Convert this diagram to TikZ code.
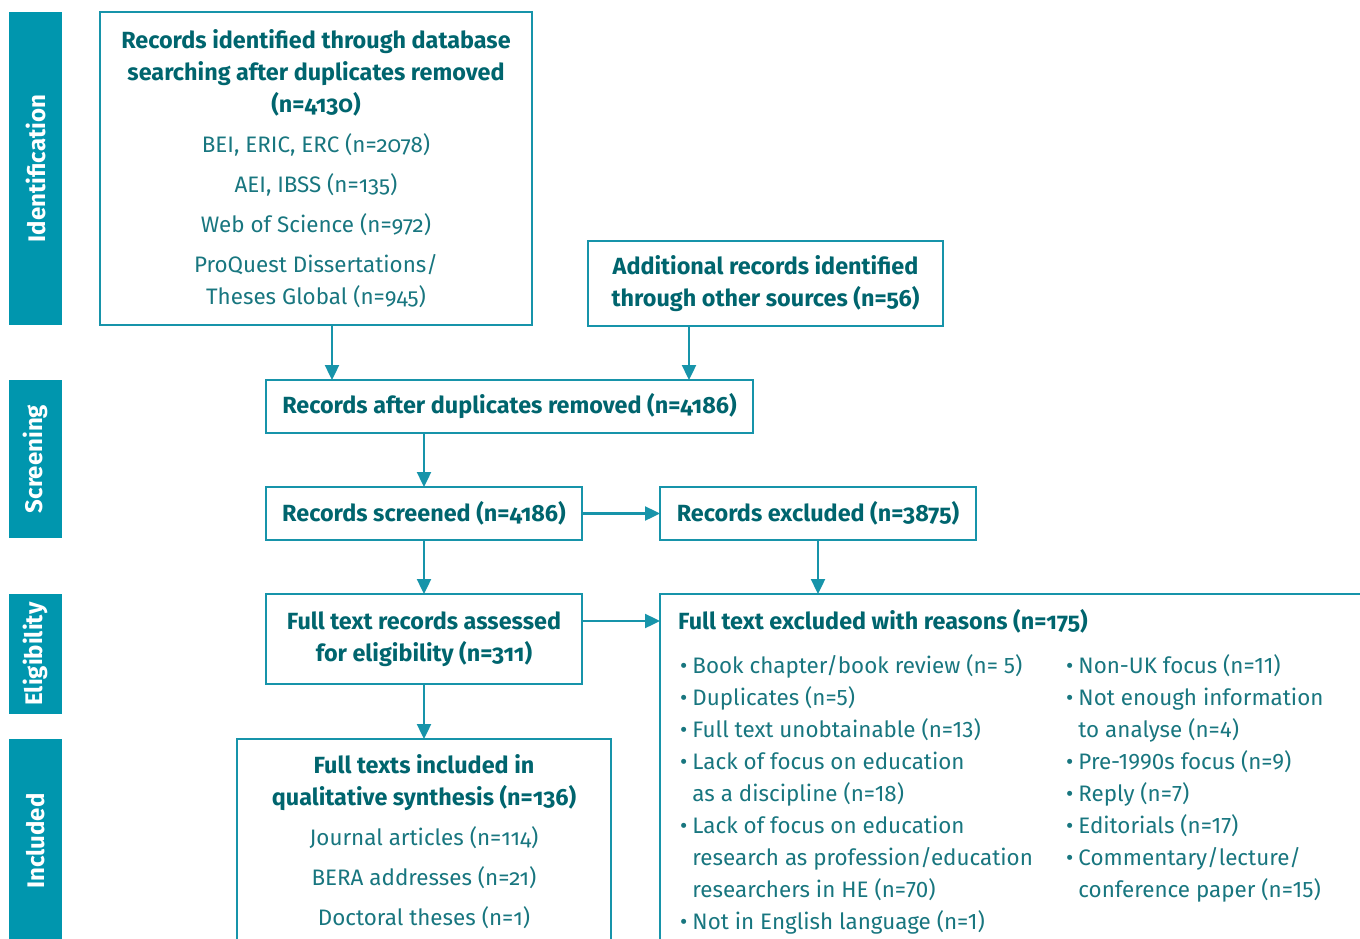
\documentclass[tikz,border=0pt]{standalone}
\usepackage{fontspec}
\setmainfont{Fira Sans}[Numbers=Lining]
\newfontfamily\hdfont{Fira Sans}[Numbers=OldStyle]
\usetikzlibrary{arrows.meta}
\definecolor{barcol}{HTML}{0096AE}
\definecolor{linecol}{HTML}{1794AA}
\definecolor{headcol}{HTML}{00656E}
\definecolor{txtcol}{HTML}{18767F}
\tikzset{
  box/.style={draw=linecol, line width=2.6pt, rectangle, inner sep=0pt, outer sep=0pt, align=center},
  sidebar/.style={fill=barcol, draw=none, inner sep=0pt, outer sep=0pt},
  sidelabel/.style={rotate=90, text=white, font=\hdfont\bfseries\fontsize{24}{28}\selectfont},
  hd/.style={text=headcol, font=\hdfont\bfseries\fontsize{23.4}{32}\selectfont},
  arr/.style={draw=linecol, line width=2.4pt, -{Triangle[length=15pt,width=14pt]}},
}
\newcommand{\rg}[1]{{\mdseries\color{txtcol}\fontsize{22.4}{32}\selectfont #1}}
\begin{document}
\begin{tikzpicture}[x=1pt,y=-1pt]
\useasboundingbox (0,0) rectangle (1360,939);
\clip (0,0) rectangle (1360,939);
% side bars
\node[sidebar, minimum width=53pt, minimum height=313pt] (sbid) at (35.5,168.5) {};
\node[sidelabel] (lid) at (sbid.center) {Identification};
\node[sidebar, minimum width=53pt, minimum height=158pt] (sbsc) at (35.5,459) {};
\node[sidelabel] (lsc) at (sbsc.center) {Screening};
\node[sidebar, minimum width=53pt, minimum height=120pt] (sbel) at (35.5,654) {};
\node[sidelabel] (lel) at (sbel.center) {Eligibility};
\node[sidebar, minimum width=53pt, minimum height=204pt] (sbin) at (35.5,841) {};
\node[sidelabel] (lin) at (sbin.center) {Included};
% boxes
\node[box, hd, minimum width=432pt, minimum height=313pt] (b1) at (316,168.5)
 {Records identified through database\\searching after duplicates removed\\(n=4130)\\[8pt]
  \rg{BEI, ERIC, ERC (n=2078)}\\[8pt]
  \rg{AEI, IBSS (n=135)}\\[8pt]
  \rg{Web of Science (n=972)}\\[8pt]
  \rg{ProQuest Dissertations/}\\
  \rg{Theses Global (n=945)}};
\node[box, hd, minimum width=355pt, minimum height=85pt] (b2) at (765.5,283.5)
 {Additional records identified\\through other sources (n=56)};
\node[box, hd, minimum width=487pt, minimum height=53pt] (b3) at (509.5,406.5)
 {Records after duplicates removed (n=4186)};
\node[box, hd, minimum width=316pt, minimum height=53pt] (b4) at (424,513.5)
 {Records screened (n=4186)};
\node[box, hd, minimum width=316pt, minimum height=53pt] (b5) at (818,513.5)
 {Records excluded (n=3875)};
\node[box, hd, minimum width=316pt, minimum height=90pt] (b6) at (424,639)
 {Full text records assessed\\for eligibility (n=311)};
\node[box, minimum width=760pt, minimum height=400pt] (b7) at (1040,794) {};
\node[box, minimum width=374pt, minimum height=260pt] (b8) at (424,869) {};
% texts in cut-off boxes
\node[hd, anchor=north, inner sep=0pt, align=center] (t8) at (424,754)
 {Full texts included in\\qualitative synthesis (n=136)\\[8pt]
  \rg{Journal articles (n=114)}\\[8pt]
  \rg{BERA addresses (n=21)}\\[8pt]
  \rg{Doctoral theses (n=1)}};
\node[hd, anchor=west, inner sep=0pt] (t7) at (678,621) {Full text excluded with reasons (n=175)};
\node[anchor=north west, inner sep=0pt, text=txtcol, font=\fontsize{22.4}{32}\selectfont] (t7a) at (680,651)
 {\begin{tabular}{@{}l@{\hspace{5pt}}l@{}}
  • & Book chapter/book review (n= 5)\\
  • & Duplicates (n=5)\\
  • & Full text unobtainable (n=13)\\
  • & Lack of focus on education\\
    & as a discipline (n=18)\\
  • & Lack of focus on education\\
    & research as profession/education\\
    & researchers in HE (n=70)\\
  • & Not in English language (n=1)
 \end{tabular}};
\node[anchor=north west, inner sep=0pt, text=txtcol, font=\fontsize{22.4}{32}\selectfont] (t7b) at (1066,651)
 {\begin{tabular}{@{}l@{\hspace{5pt}}l@{}}
  • & Non-UK focus (n=11)\\
  • & Not enough information\\
    & to analyse (n=4)\\
  • & Pre-1990s focus (n=9)\\
  • & Reply (n=7)\\
  • & Editorials (n=17)\\
  • & Commentary/lecture/\\
    & conference paper (n=15)
 \end{tabular}};
% connectors
\draw[arr] ([xshift=16pt]b1.south) -- ([xshift=16pt]b1.south |- b3.north);
\draw[arr] ([xshift=-76.5pt]b2.south) -- ([xshift=-76.5pt]b2.south |- b3.north);
\draw[arr] (b4.north |- b3.south) -- (b4.north);
\draw[arr] (b4.east) -- (b5.west);
\draw[arr] (b5.south) -- (b5.south |- b7.north);
\draw[arr] (b4.south) -- (b6.north);
\draw[arr] ([yshift=18pt]b6.east) -- ([yshift=18pt]b6.east -| b7.west);
\draw[arr] (b6.south) -- (b8.north);
\end{tikzpicture}
\end{document}
